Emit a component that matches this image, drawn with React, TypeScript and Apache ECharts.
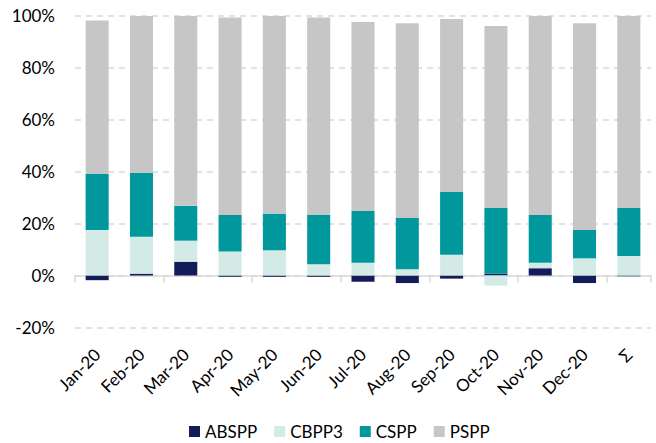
import React, { useEffect, useRef } from "react";
import * as echarts from "echarts";

const categories = ["Jan-20", "Feb-20", "Mar-20", "Apr-20", "May-20", "Jun-20", "Jul-20", "Aug-20", "Sep-20", "Oct-20", "Nov-20", "Dec-20", "Σ"];
const abspp = [-1.8, 0.7, 5.3, -0.5, -0.5, -0.5, -2.4, -2.9, -1.2, 0.7, 2.8, -2.9, -0.3];
const cbpp3 = [17.5, 14.2, 8.1, 9.2, 9.7, 4.3, 4.9, 2.4, 8.0, -3.9, 2.1, 6.6, 7.5];
const cspp = [21.5, 24.6, 13.4, 14.1, 14.1, 19.0, 19.9, 19.7, 24.1, 25.3, 18.4, 10.9, 18.5];
const pspp = [59.1, 60.3, 73.0, 75.9, 76.0, 75.9, 72.7, 74.9, 66.6, 70.0, 76.5, 79.5, 73.8];
const yTicks = { min: -20, max: 100, interval: 20 };

const FONT = "Lato, 'Open Sans', sans-serif";

export default function App() {
  const ref = useRef<HTMLDivElement>(null);
  useEffect(() => {
    if (!ref.current) return;
    const chart = echarts.init(ref.current, undefined, { renderer: "svg" });
    const mk = (name: string, data: number[], color: string) => ({
      name,
      type: "bar",
      stack: "total",
      data,
      barWidth: "52%",
      xAxisIndex: 0,
      itemStyle: { color },
    });
    chart.setOption({
      animation: false,
      textStyle: { fontFamily: FONT },
      grid: { left: 75, right: 5, top: 15.5, bottom: 115.5 },
      legend: {
        top: 423,
        left: 189,
        padding: 0,
        itemWidth: 11,
        itemHeight: 11,
        itemGap: 17,
        icon: "rect",
        textStyle: { fontSize: 17, color: "#000", fontFamily: FONT },
        data: ["ABSPP", "CBPP3", "CSPP", "PSPP"],
      },
      xAxis: [
        {
          type: "category",
          data: categories,
          axisLine: { onZero: true, lineStyle: { color: "#D9D9D9", width: 1.5 } },
          axisTick: { show: true, length: 7, lineStyle: { color: "#D9D9D9", width: 1.5 } },
          axisLabel: { show: false },
        },
        {
          type: "category",
          data: categories,
          position: "bottom",
          axisLine: { show: false, onZero: false },
          axisTick: { show: false },
          axisLabel: { rotate: 45, fontSize: 17, color: "#000", margin: 24, fontFamily: FONT, interval: 0 },
        },
      ],
      yAxis: {
        type: "value",
        min: yTicks.min,
        max: yTicks.max,
        interval: yTicks.interval,
        axisLabel: { formatter: "{value}%", fontSize: 17, color: "#000", margin: 20, fontFamily: FONT },
        axisLine: { show: false },
        axisTick: { show: false },
        splitLine: { lineStyle: { color: "#D9D9D9", type: [6, 5], width: 1.5 } },
      },
      series: [
        mk("ABSPP", abspp, "#141B5A"),
        mk("CBPP3", cbpp3, "#D4EAE7"),
        mk("CSPP", cspp, "#00989C"),
        mk("PSPP", pspp, "#C6C6C6"),
      ],
    });
    return () => chart.dispose();
  }, []);
  return <div ref={ref} style={{ width: 656, height: 443, position: "absolute", left: 0, top: 0 }} />;
}
